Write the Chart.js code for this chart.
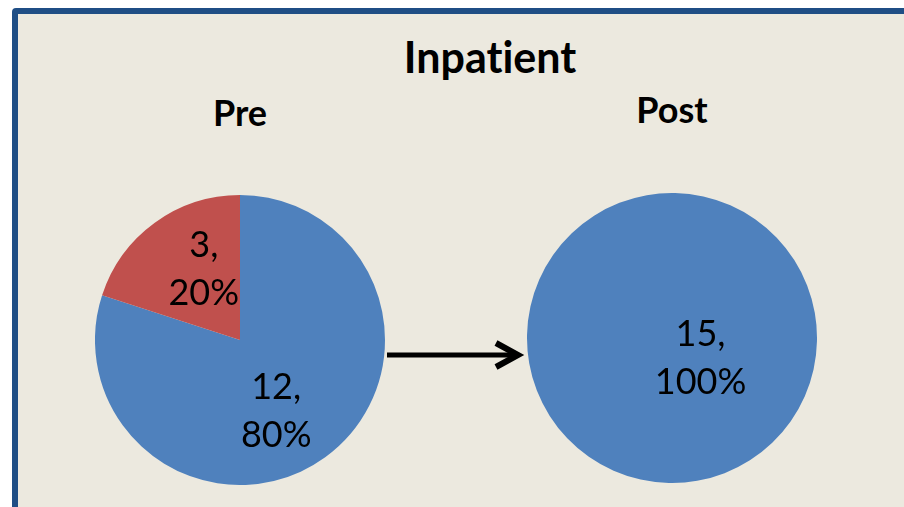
<!DOCTYPE html>
<html>
<head>
<meta charset="utf-8">
<script src="https://cdn.jsdelivr.net/npm/chart.js@4.4.1/dist/chart.umd.min.js"></script>
<style>
    body { margin: 0; width: 904px; height: 507px; background: #ffffff; overflow: hidden; position: relative; font-family: Lato, "Open Sans", sans-serif; }
    #panel { position: absolute; left: 12px; top: 8px; width: 920px; height: 560px; border: 6px solid #1F4E85; border-radius: 4px; background: #ECE9DF; }
    .heading { position: absolute; font-weight: bold; color: #000; white-space: nowrap; transform: translateX(-50%); font-variant-ligatures: none; }
    #title { left: 490px; top: 31px; font-size: 43px; line-height: 51px; }
    #preTitle { left: 240px; top: 91px; font-size: 36px; line-height: 43px; }
    #postTitle { left: 672px; top: 88px; font-size: 36px; line-height: 43px; }
    .pie { position: absolute; width: 290px; height: 290px; }
    #preWrap { left: 95px; top: 195px; }
    #postWrap { left: 527px; top: 193px; }
    #arrow { position: absolute; left: 380px; top: 330px; }
</style>
</head>
<body>
<div id="panel"></div>
<div id="title" class="heading">Inpatient</div>
<div id="preTitle" class="heading">Pre</div>
<div id="postTitle" class="heading">Post</div>
<div id="preWrap" class="pie"><canvas id="preChart" width="290" height="290"></canvas></div>
<div id="postWrap" class="pie"><canvas id="postChart" width="290" height="290"></canvas></div>
<svg id="arrow" width="150" height="50">
    <line x1="7" y1="25" x2="136" y2="25" stroke="#000" stroke-width="5"/>
    <polyline points="116,13 138,25 116,37" fill="none" stroke="#000" stroke-width="6" stroke-linejoin="miter"/>
</svg>
<script>
// slice names and counts for the two periods
const sliceNames = ["Met", "Not met"];
const preValues = [12, 3];
const postValues = [15, 0];
const sliceColors = ["#4F81BD", "#C0504D"];

// writes "count," / "pct%" inside each slice
const sliceLabels = {
    id: "sliceLabels",
    afterDatasetsDraw(chart, args, opts) {
        const ctx = chart.ctx;
        const values = chart.data.datasets[0].data;
        const total = values.reduce((a, b) => a + b, 0);
        const meta = chart.getDatasetMeta(0);
        ctx.save();
        ctx.font = "36px Lato";
        ctx.fillStyle = "#000";
        ctx.textAlign = "center";
        ctx.textBaseline = "middle";
        meta.data.forEach((arc, i) => {
            if (!values[i]) return;
            const p = arc.getProps(["x", "y", "startAngle", "endAngle", "outerRadius"], true);
            // nudge the label a little clockwise off the slice middle
            const mid = (p.startAngle + p.endAngle) / 2 + opts.shift * Math.PI / 180;
            const d = p.outerRadius * opts.distance;
            const x = p.x + Math.cos(mid) * d;
            const y = p.y + Math.sin(mid) * d;
            const pct = Math.round(values[i] / total * 100);
            ctx.fillText(values[i] + ",", x, y - 24);
            ctx.fillText(pct + "%", x, y + 24);
        });
        ctx.restore();
    }
};

function makePie(id, values, rotation, distance, shift) {
    return new Chart(document.getElementById(id).getContext("2d"), {
        type: "pie",
        data: {
            labels: sliceNames,
            datasets: [{
                data: values,
                backgroundColor: sliceColors,
                borderWidth: 0
            }]
        },
        options: {
            responsive: false,
            animation: false,
            rotation: rotation,
            layout: { padding: 0 },
            plugins: {
                legend: { display: false },
                tooltip: { enabled: false },
                sliceLabels: { distance: distance, shift: shift }
            }
        },
        plugins: [sliceLabels]
    });
}

makePie("preChart", preValues, 0, 0.55, 9);
makePie("postChart", postValues, -55, 0.24, 0);
</script>
</body>
</html>
